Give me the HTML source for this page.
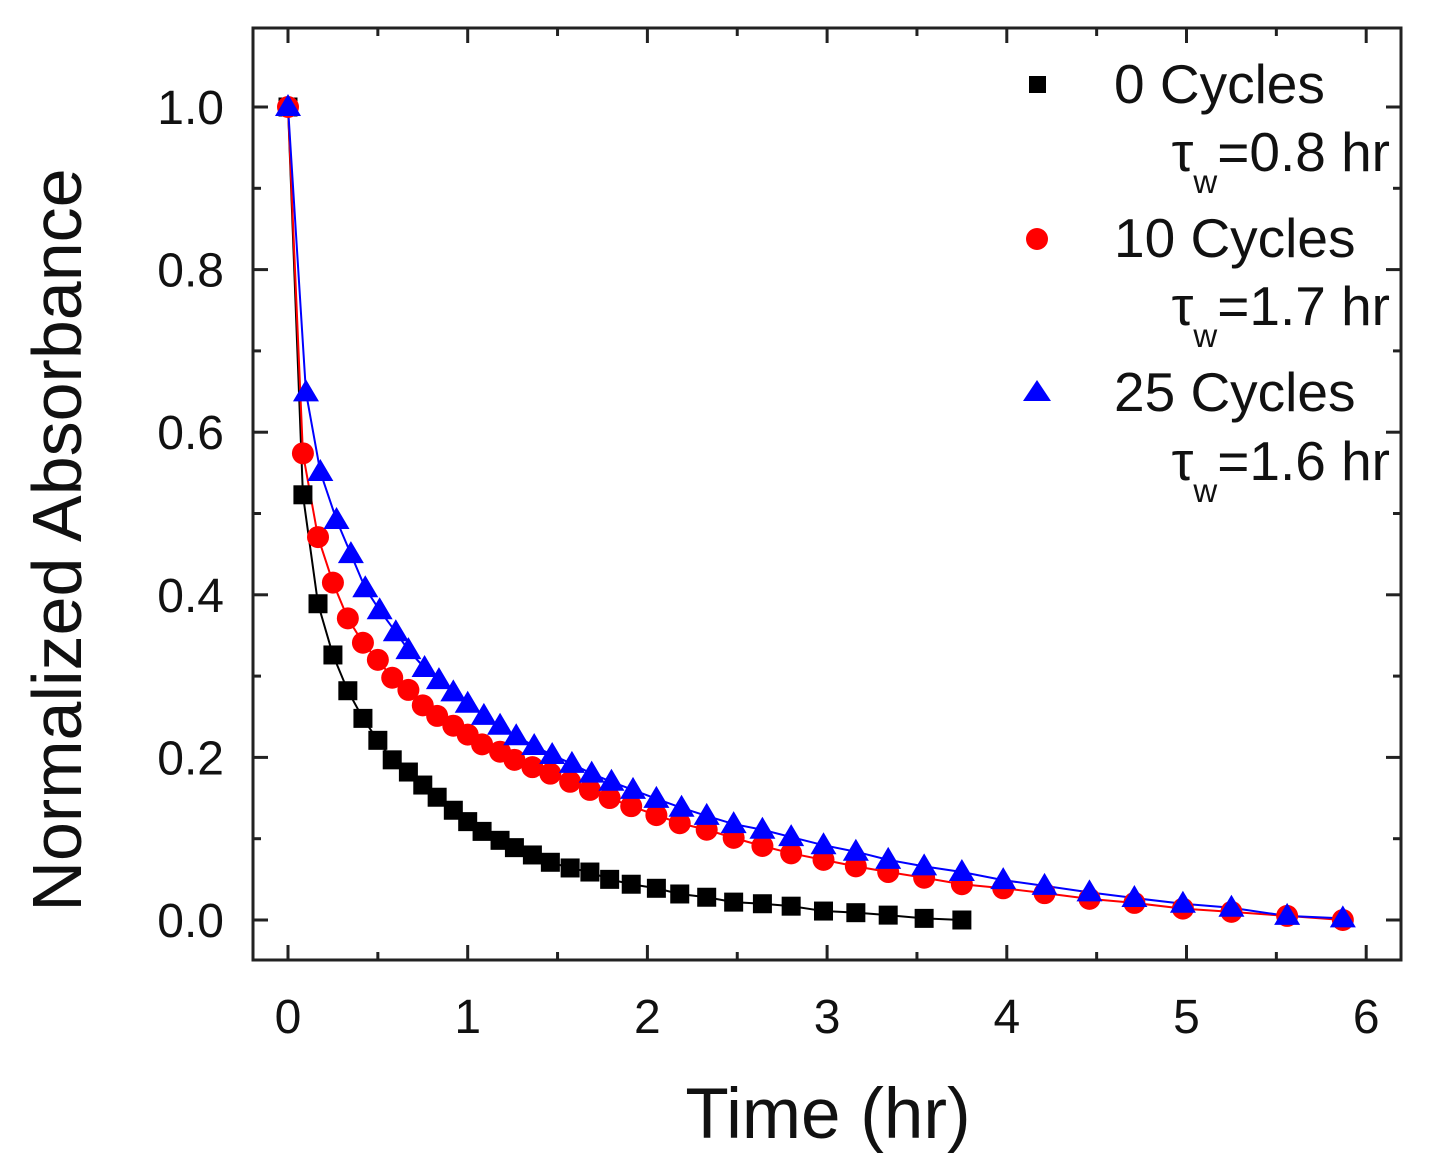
<!DOCTYPE html>
<html><head><meta charset="utf-8"><style>
html,body{margin:0;padding:0;background:#fff;}
svg{display:block;font-family:"Liberation Sans",Arial,sans-serif;}
</style></head><body>
<svg id="chart" width="1434" height="1173" viewBox="0 0 1434 1173">
<rect x="253" y="28" width="1148" height="932" fill="none" stroke="#222" stroke-width="3"/>
<g id="axes"></g>
<g id="fits"></g>
<g id="marks"></g>
<text x="828" y="1138" font-size="71" text-anchor="middle" fill="#111">Time (hr)</text>
<text transform="translate(81,540) rotate(-90)" font-size="70" text-anchor="middle" fill="#111">Normalized Absorbance</text>
<g>
<rect x="1029" y="76" width="17" height="17" fill="#000"/>
<text x="1114" y="103" font-size="55" fill="#111">0 Cycles</text>
<text x="1390" y="171" font-size="55" text-anchor="end" fill="#111">τ<tspan font-size="33" dy="22">w</tspan><tspan dy="-22">=0.8 hr</tspan></text>
<circle cx="1037" cy="239" r="11" fill="#f00"/>
<text x="1114" y="257" font-size="55" fill="#111">10 Cycles</text>
<text x="1390" y="325" font-size="55" text-anchor="end" fill="#111">τ<tspan font-size="33" dy="22">w</tspan><tspan dy="-22">=1.7 hr</tspan></text>
<polygon points="1037,380 1051,401 1023,401" fill="#00f"/>
<text x="1114" y="411" font-size="55" fill="#111">25 Cycles</text>
<text x="1390" y="480" font-size="55" text-anchor="end" fill="#111">τ<tspan font-size="33" dy="22">w</tspan><tspan dy="-22">=1.6 hr</tspan></text>
</g>
</svg>
<script>
const xTicks=[0,1,2,3,4,5,6];
const yTicks=[0.0,0.2,0.4,0.6,0.8,1.0];
const t0=[0,0.083,0.167,0.25,0.333,0.417,0.5,0.58,0.67,0.75,0.83,0.92,1.0,1.08,1.18,1.26,1.36,1.46,1.57,1.68,1.79,1.91,2.05,2.18,2.33,2.48,2.64,2.80,2.98,3.16,3.34,3.54,3.75];
const a0=[1,0.523,0.389,0.326,0.282,0.248,0.221,0.197,0.182,0.166,0.151,0.135,0.121,0.109,0.098,0.089,0.080,0.071,0.064,0.059,0.050,0.044,0.039,0.032,0.028,0.022,0.020,0.017,0.011,0.009,0.006,0.002,0];
const t10=[0,0.083,0.167,0.25,0.333,0.417,0.5,0.58,0.67,0.75,0.83,0.92,1.0,1.08,1.18,1.26,1.36,1.46,1.57,1.68,1.79,1.91,2.05,2.18,2.33,2.48,2.64,2.80,2.98,3.16,3.34,3.54,3.75,3.98,4.21,4.46,4.71,4.98,5.25,5.56,5.87];
const a10=[1,0.574,0.471,0.415,0.371,0.341,0.32,0.298,0.283,0.264,0.251,0.239,0.228,0.216,0.207,0.197,0.188,0.18,0.17,0.16,0.15,0.14,0.129,0.119,0.111,0.101,0.091,0.082,0.074,0.066,0.059,0.052,0.044,0.039,0.033,0.026,0.021,0.014,0.01,0.005,0];
const t25=[0,0.1,0.18,0.27,0.35,0.43,0.51,0.6,0.67,0.76,0.84,0.92,1.0,1.09,1.18,1.27,1.37,1.47,1.58,1.69,1.8,1.92,2.05,2.19,2.33,2.48,2.64,2.8,2.98,3.16,3.34,3.54,3.75,3.98,4.21,4.46,4.71,4.98,5.25,5.56,5.87];
const a25=[1,0.649,0.551,0.492,0.45,0.408,0.381,0.354,0.332,0.31,0.295,0.28,0.266,0.251,0.239,0.226,0.214,0.203,0.192,0.18,0.17,0.16,0.149,0.138,0.128,0.118,0.111,0.102,0.092,0.084,0.074,0.066,0.059,0.049,0.042,0.034,0.027,0.02,0.015,0.005,0.002];

const X=v=>288+v*179.7, Y=v=>920-v*813;
const NS='http://www.w3.org/2000/svg';
function mk(tag,attrs,parent){const e=document.createElementNS(NS,tag);for(const k in attrs)e.setAttribute(k,attrs[k]);parent.appendChild(e);return e;}
const axes=document.getElementById('axes'),fits=document.getElementById('fits'),marks=document.getElementById('marks');
xTicks.forEach(v=>{
  const l=mk('line',{x1:X(v),x2:X(v),y1:960,y2:945,stroke:'#222','stroke-width':3},axes);
  
  
  const l2=mk('line',{x1:X(v),x2:X(v),y1:28,y2:43,stroke:'#222','stroke-width':3},axes);
  
  
  if(v<6){const m=mk('line',{x1:X(v+0.5),x2:X(v+0.5),y1:960,y2:952,stroke:'#222','stroke-width':3},axes);
  
  
  const m2=mk('line',{x1:X(v+0.5),x2:X(v+0.5),y1:28,y2:36,stroke:'#222','stroke-width':3},axes);
  
  }
  const t=mk('text',{x:X(v),y:1033,'font-size':48,'text-anchor':'middle',fill:'#111'},axes);
  t.textContent=v;
  
  
});
yTicks.forEach(v=>{
  [[253,268],[1401,1386]].forEach(p=>{const l=mk('line',{x1:p[0],x2:p[1],y1:Y(v),y2:Y(v),stroke:'#222','stroke-width':3},axes);
  
  });
  if(v<1){[[253,261],[1401,1393]].forEach(p=>{const m=mk('line',{x1:p[0],x2:p[1],y1:Y(v+0.1),y2:Y(v+0.1),stroke:'#222','stroke-width':3},axes);
  
  });}
  const t=mk('text',{x:224,y:Y(v)+17,'font-size':48,'text-anchor':'end',fill:'#111'},axes);
  t.textContent=v.toFixed(1);
  
  
});
function fit(ts,as,col,name){
  const p=mk('polyline',{points:ts.map((t,i)=>X(t)+','+Y(as[i])).join(' '),fill:'none',stroke:col,'stroke-width':2},fits);
  
  
}
fit(t0,a0,'#000','fit-line-0-cycles');
fit(t10,a10,'#f00','fit-line-10-cycles');
fit(t25,a25,'#00f','fit-line-25-cycles');
t0.forEach((t,i)=>{const r=mk('rect',{x:X(t)-9.5,y:Y(a0[i])-9.5,width:19,height:19,fill:'#000'},marks);
  
  });
t10.forEach((t,i)=>{const c=mk('circle',{cx:X(t),cy:Y(a10[i]),r:11,fill:'#f00'},marks);
  
  });
t25.forEach((t,i)=>{const x=X(t),y=Y(a25[i]);const p=mk('polygon',{points:`${x},${y-13} ${x+13},${y+9} ${x-13},${y+9}`,fill:'#00f'},marks);
  
  });
</script>
</body></html>
